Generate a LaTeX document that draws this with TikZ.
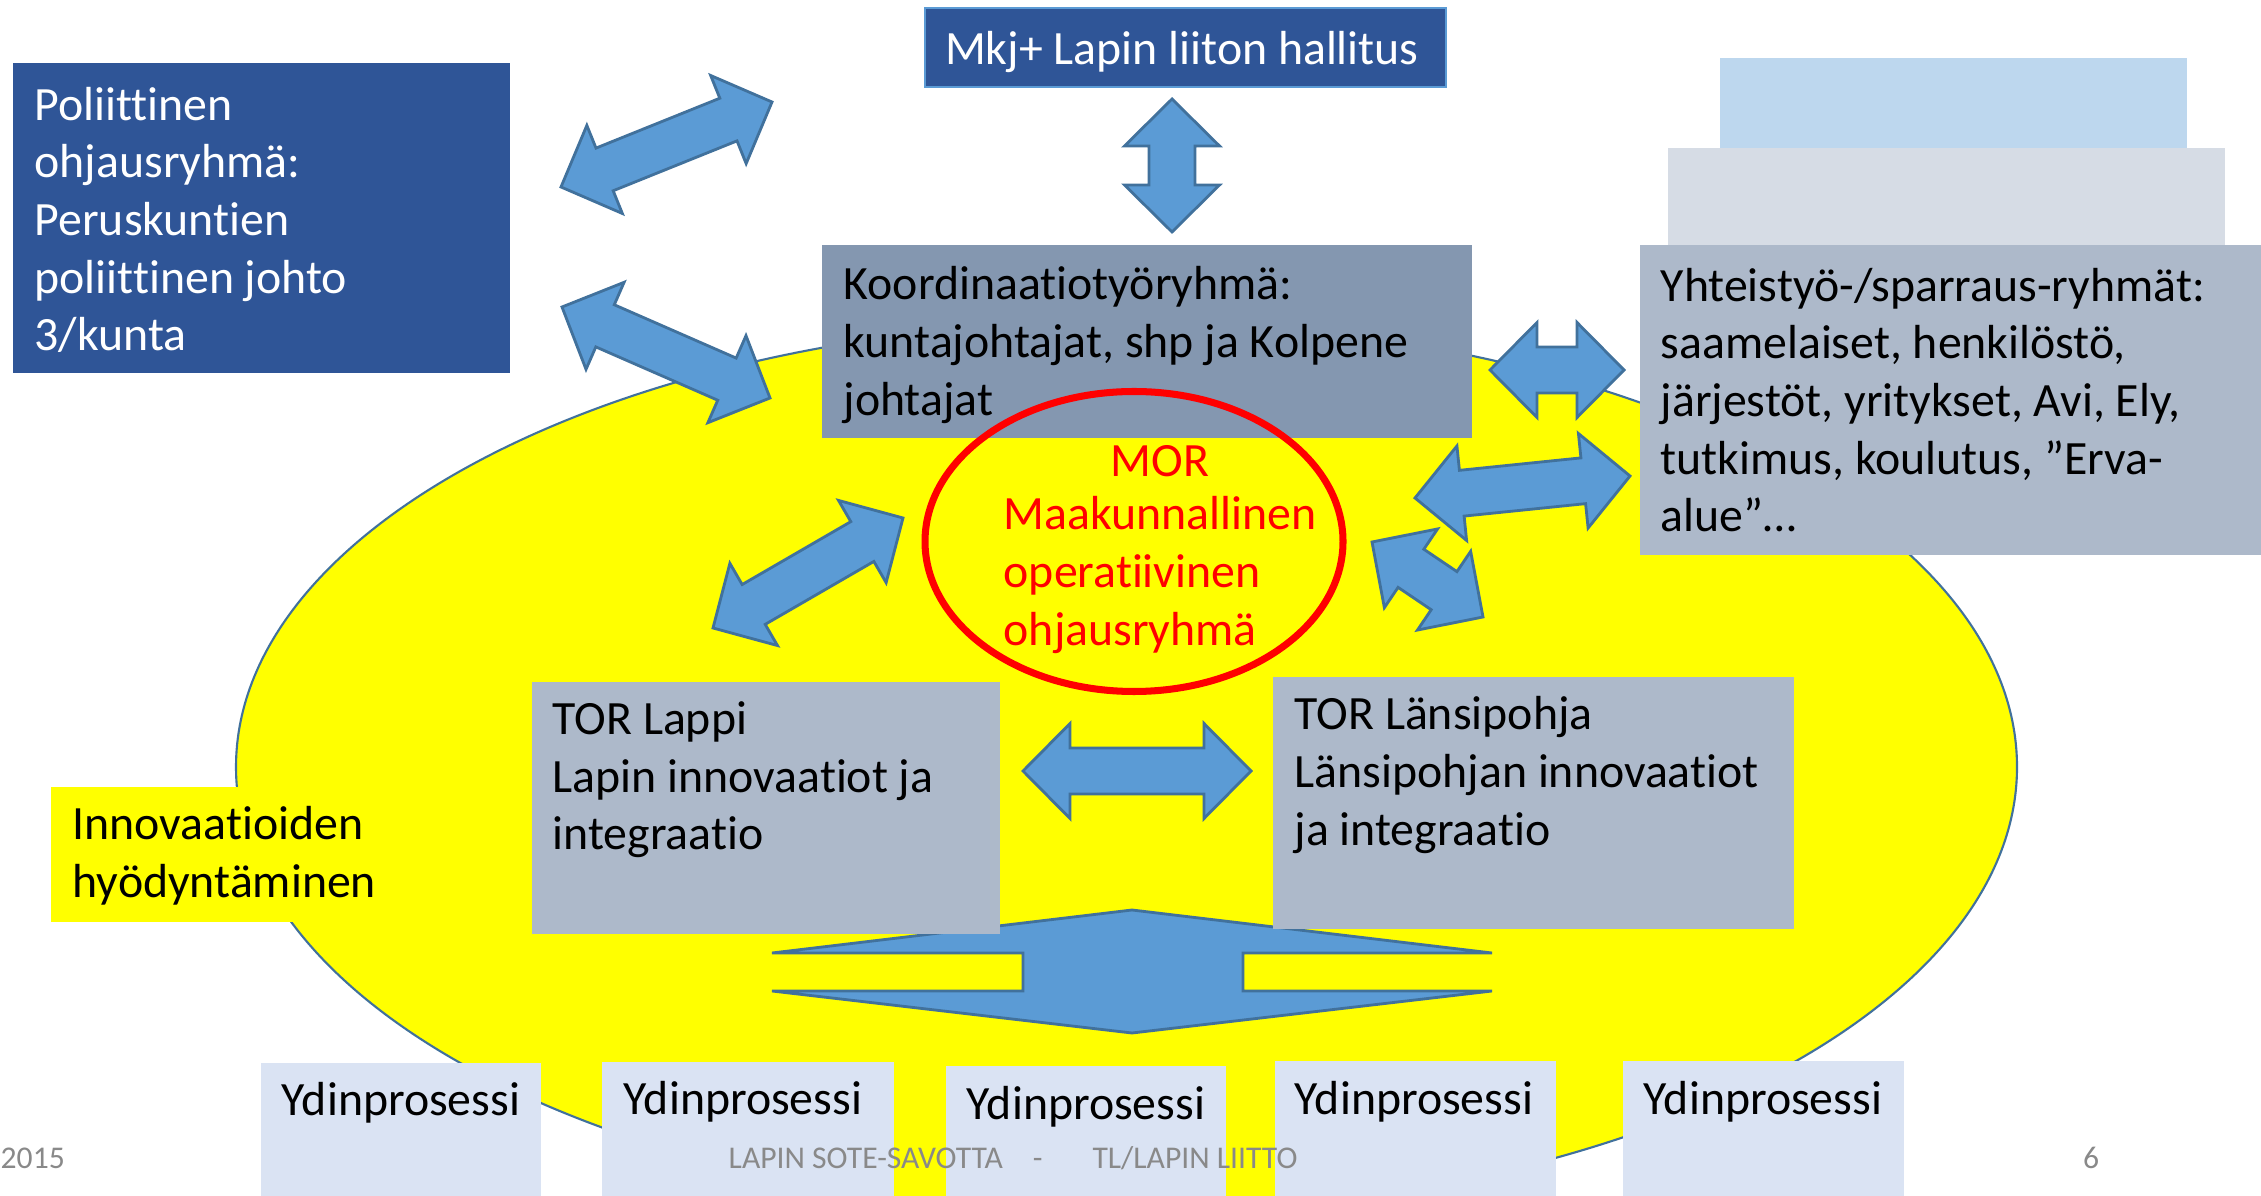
\documentclass[tikz,border=0pt]{standalone}
\usepackage{fontspec}
\setmainfont{Carlito}[Ligatures=NoCommon]
\usetikzlibrary{calc}
\definecolor{mydarkblue}{HTML}{2F5597}
\definecolor{mykoordcolor}{HTML}{8497B0}
\definecolor{mygroupcolor}{HTML}{ADB9CA}
\definecolor{mycorecolor}{HTML}{DAE3F3}
\definecolor{mypalegray}{HTML}{D6DCE5}
\definecolor{mypaleblue}{HTML}{BDD7EE}
\definecolor{myarrowcolor}{HTML}{5B9BD5}
\definecolor{myedgecolor}{HTML}{41719C}
\definecolor{myfootcolor}{HTML}{898989}
\definecolor{myyellow}{HTML}{FFFF00}
\definecolor{myred}{HTML}{FF0000}
\newcommand{\twoway}[2]{%
\draw[blockarrow] (#1)
 -- ($(#1)!0.47cm!(#2)!0.475cm!90:(#2)$) -- ($(#1)!0.47cm!(#2)!0.23cm!90:(#2)$)
 -- ($(#2)!0.47cm!(#1)!0.23cm!90:(#2)$) -- ($(#2)!0.47cm!(#1)!0.475cm!90:(#2)$)
 -- (#2)
 -- ($(#2)!0.47cm!(#1)!0.475cm!-90:(#2)$) -- ($(#2)!0.47cm!(#1)!0.23cm!-90:(#2)$)
 -- ($(#1)!0.47cm!(#2)!0.23cm!-90:(#2)$) -- ($(#1)!0.47cm!(#2)!0.475cm!-90:(#2)$)
 -- cycle;%
}
\begin{document}
\begin{tikzpicture}[
  box/.style={rectangle, inner sep=0pt, outer sep=0pt},
  txt/.style={anchor=west, align=left, inner sep=0pt, font=\fontsize{13.6}{16.4}\selectfont},
  foot/.style={inner sep=0pt, text=myfootcolor, font=\fontsize{9}{10}\selectfont},
  blockarrow/.style={fill=myarrowcolor, draw=myedgecolor, line width=0.8pt, line join=miter}]%
\useasboundingbox (0,0) rectangle (22.61,-11.96);%
\draw[fill=myyellow, draw=myedgecolor, line width=0.6pt] (11.265,-7.67) ellipse [x radius=8.905, y radius=4.46];%
\node[box, fill=mypaleblue, minimum width=4.67cm, minimum height=0.90cm] (paleblue) at (19.535,-1.03) {};%
\node[box, fill=mypalegray, minimum width=5.57cm, minimum height=0.97cm] (palegray) at (19.465,-1.965) {};%
\node[box, fill=mydarkblue, minimum width=4.97cm, minimum height=3.10cm] (polit) at (2.615,-2.18) {};%
\node[box, fill=mydarkblue, draw=myarrowcolor, line width=0.7pt, minimum width=5.21cm, minimum height=0.79cm] (mkj) at (11.855,-0.475) {};%
\node[box, fill=mykoordcolor, minimum width=6.50cm, minimum height=1.93cm] (koord) at (11.47,-3.415) {};%
\node[box, fill=mygroupcolor, minimum width=6.30cm, minimum height=3.10cm] (yhteis) at (19.55,-4.00) {};%
\node[box, fill=myyellow, minimum width=3.49cm, minimum height=1.35cm] (innov) at (2.255,-8.545) {};%
\draw[blockarrow] (11.32,-9.10) -- (14.92,-9.53) -- (12.43,-9.53) -- (12.43,-9.91) -- (14.92,-9.91) -- (11.32,-10.33) -- (7.72,-9.91) -- (10.23,-9.91) -- (10.23,-9.53) -- (7.72,-9.53) -- cycle;%
\node[box, fill=mygroupcolor, minimum width=4.68cm, minimum height=2.52cm] (torlappi) at (7.66,-8.08) {};%
\node[box, fill=mygroupcolor, minimum width=5.21cm, minimum height=2.52cm] (torlansi) at (15.335,-8.03) {};%
\node[box, fill=mycorecolor, minimum width=2.80cm, minimum height=1.33cm] (ydin1) at (4.01,-11.295) {};%
\node[box, fill=mycorecolor, minimum width=2.92cm, minimum height=1.34cm] (ydin2) at (7.48,-11.29) {};%
\node[box, fill=mycorecolor, minimum width=2.80cm, minimum height=1.30cm] (ydin3) at (10.86,-11.31) {};%
\node[box, fill=mycorecolor, minimum width=2.81cm, minimum height=1.35cm] (ydin4) at (14.155,-11.285) {};%
\node[box, fill=mycorecolor, minimum width=2.81cm, minimum height=1.35cm] (ydin5) at (17.635,-11.285) {};%
\draw[myred, line width=2pt] (11.34,-5.415) ellipse [x radius=2.09, y radius=1.50];%
\coordinate (pm1) at (5.61,-1.87);%
\coordinate (pm2) at (7.72,-1.02);%
\coordinate (pk1) at (5.62,-3.07);%
\coordinate (pk2) at (7.70,-3.98);%
\coordinate (ky1) at (14.90,-3.70);%
\coordinate (ky2) at (16.24,-3.70);%
\coordinate (my1) at (14.15,-4.98);%
\coordinate (my2) at (16.30,-4.76);%
\coordinate (mw1) at (13.72,-5.42);%
\coordinate (mw2) at (14.83,-6.17);%
\coordinate (ml1) at (7.13,-6.28);%
\coordinate (ml2) at (9.03,-5.18);%
\coordinate (mk1) at (11.72,-0.99);%
\coordinate (mk2) at (11.72,-2.32);%
\coordinate (tt1) at (10.23,-7.71);%
\coordinate (tt2) at (12.51,-7.71);%
\twoway{pm1}{pm2}%
\twoway{pk1}{pk2}%
\twoway{ky1}{ky2}%
\twoway{my1}{my2}%
\twoway{mw1}{mw2}%
\twoway{ml1}{ml2}%
\twoway{mk1}{mk2}%
\twoway{tt1}{tt2}%
\node[txt, text=white] (polittext) at (0.34,-2.20) {Poliittinen\\ohjausryhmä:\\Peruskuntien\\poliittinen johto\\3/kunta};%
\node[txt, text=white, anchor=center] (mkjtext) at (11.82,-0.52) {Mkj+ Lapin liiton hallitus};%
\node[txt] (koordtext) at (8.43,-3.45) {Koordinaatiotyöryhmä:\\kuntajohtajat, shp ja Kolpene\\johtajat};%
\node[txt] (yhteistext) at (16.60,-4.00) {Yhteistyö-/sparraus-ryhmät:\\saamelaiset, henkilöstö,\\järjestöt, yritykset, Avi, Ely,\\tutkimus, koulutus, ”Erva-\\alue”…};%
\node[txt] (innovtext) at (0.72,-8.56) {Innovaatioiden\\hyödyntäminen};%
\node[txt] (torlappitext) at (5.52,-7.80) {TOR Lappi\\Lapin innovaatiot ja\\integraatio};%
\node[txt] (torlansitext) at (12.94,-7.75) {TOR Länsipohja\\Länsipohjan innovaatiot\\ja integraatio};%
\node[txt, text=myred, anchor=center] (mortitle) at (11.60,-4.61) {MOR};%
\node[txt, text=myred] (mortext) at (10.03,-5.75) {Maakunnallinen\\operatiivinen\\ohjausryhmä};%
\node[txt] (ydin1text) at (2.81,-11.03) {Ydinprosessi};%
\node[txt] (ydin2text) at (6.23,-11.02) {Ydinprosessi};%
\node[txt] (ydin3text) at (9.66,-11.07) {Ydinprosessi};%
\node[txt] (ydin4text) at (12.94,-11.02) {Ydinprosessi};%
\node[txt] (ydin5text) at (16.43,-11.02) {Ydinprosessi};%
\node[foot, anchor=west] (footyear) at (0,-11.58) {2015};%
\node[foot, anchor=west] (foottitle) at (7.28,-11.58) {LAPIN SOTE-SAVOTTA\hspace{0.3cm}-\hspace{0.5cm}TL/LAPIN LIITTO};%
\node[foot] (footpage) at (20.91,-11.58) {6};%
\end{tikzpicture}
\end{document}
